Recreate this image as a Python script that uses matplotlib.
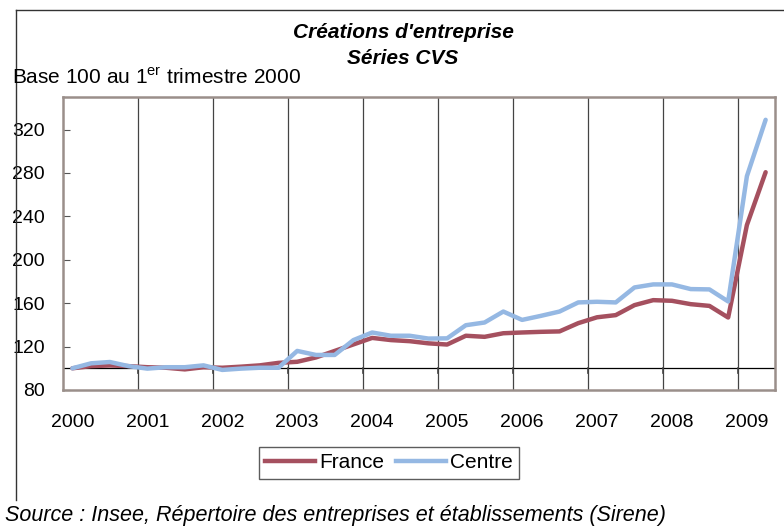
import numpy as np
import matplotlib.pyplot as plt
from matplotlib.lines import Line2D

plt.rcParams['font.family'] = ['Liberation Sans', 'DejaVu Sans']

# quarterly series, 2000 Q1 .. 2009 Q2 (base 100)
france = [100, 102, 102.6, 102, 101, 100.5, 99, 101, 100.5, 101.5, 102.7, 105,
          106, 110, 116, 122, 128, 126, 125, 123, 121.9, 130, 129, 132.3,
          133, 133.6, 134, 141.6, 147, 149, 158.2, 162.8, 162.2, 159.1, 157.5,
          146.8, 232, 280.7]
centre = [100, 104.6, 105.8, 102, 99.7, 101, 101, 102.7, 98.5, 99.7, 100.5, 100.5,
          116, 112.3, 112.3, 126, 133, 130, 130, 127.4, 127.6, 139.7, 142.2, 152.3,
          144.6, 148.3, 152.3, 160.7, 161.3, 160.7, 174.5, 177.3, 177.3, 173, 172.7,
          161.6, 277, 329]
years = ['2000', '2001', '2002', '2003', '2004', '2005', '2006', '2007', '2008', '2009']
yticks = [80, 120, 160, 200, 240, 280, 320]

x = np.arange(len(france))

fig = plt.figure(figsize=(7.84, 5.28), dpi=100)
ax = fig.add_axes([63/784, 1 - 390/528, 712/784, 293/528])

red = '#A5505F'
blue = '#95B8E3'

# grille verticale : limites d'années
for k in range(1, len(years)):
    ax.axvline(4*k - 0.5, color='#444444', lw=0.9, zorder=1)
ax.axhline(100, color='black', lw=0.9, zorder=1)
for k in range(1, len(years)):
    ax.plot([4*k - 0.5, 4*k - 0.5], [100, 96], color='#444444', lw=1.2, zorder=1)

ax.plot(x, france, color=red, lw=3.2, solid_capstyle='round', zorder=3)
ax.plot(x, centre, color=blue, lw=3.2, solid_capstyle='round', zorder=4)

ax.set_xlim(-0.5, len(france) - 0.5)
ax.set_ylim(80, 350)
ax.set_yticks(yticks)
ax.tick_params(axis='y', labelsize=14, length=5, direction='in', color='#555555', pad=13)
ax.set_xticks(np.arange(0, 4*len(years), 4))
ax.set_xticklabels(years)
ax.tick_params(axis='x', labelsize=14, length=0, pad=17)

for s in ax.spines.values():
    s.set_color('#9A8F8A')
    s.set_linewidth(1.8)

fig.text(403/784, 1 - 32/528, "Créations d'entreprise", ha='center', va='center',
         fontsize=15, fontweight='bold', style='italic')
fig.text(403/784, 1 - 58/528, "Séries CVS", ha='center', va='center',
         fontsize=15, fontweight='bold', style='italic')
fig.text(12/784, 1 - 78/528, r"Base 100 au 1$^{\mathregular{er}}$ trimestre 2000",
         ha='left', va='center', fontsize=15)
fig.text(5/784, 1 - 515/528, "Source : Insee, Répertoire des entreprises et établissements (Sirene)",
         ha='left', va='center', fontsize=15.5, style='italic')

# cadre du graphique (gauche + haut)
fig.add_artist(Line2D([16/784, 16/784], [1 - 500/528, 1 - 10/528], color='#333333', lw=1))
fig.add_artist(Line2D([16/784, 1], [1 - 10/528, 1 - 10/528], color='#333333', lw=1))

handles = [Line2D([], [], color=red, lw=3.2), Line2D([], [], color=blue, lw=3.2)]
leg = fig.legend(handles, ['France', 'Centre'], loc='center', bbox_to_anchor=(389/784, 1 - 463/528),
                 ncol=2, fontsize=15, frameon=True, fancybox=False, edgecolor='#333333',
                 handlelength=2.4, handletextpad=0.2, columnspacing=0.55, borderpad=0.3)
leg.get_frame().set_linewidth(1)

fig.savefig('out.png', dpi=100)
